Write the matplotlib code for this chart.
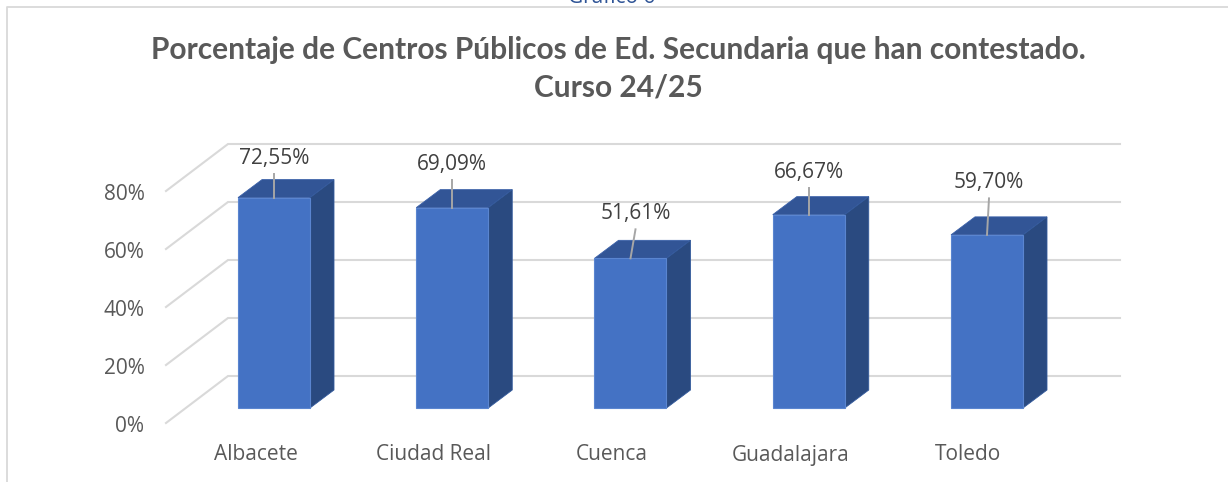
import matplotlib
matplotlib.use("Agg")
import matplotlib.pyplot as plt
from matplotlib.patches import Polygon

plt.rcParams['font.family'] = ['Open Sans', 'DejaVu Sans']

provincias = ["Albacete", "Ciudad Real", "Cuenca", "Guadalajara", "Toledo"]
porcentajes = [72.55, 69.09, 51.61, 66.67, 59.70]
etiquetas = ["72,55%", "69,09%", "51,61%", "66,67%", "59,70%"]
ticks = [0, 20, 40, 60, 80]
tick_labels = ["0%", "20%", "40%", "60%", "80%"]

W, H = 1228, 482
x0, x_step = 274, 178.25   # pixel of first bar centre, spacing between bars
y0, y_scale = 408, 2.9     # pixel of value 0 on the bar front, pixels per %


# pixel offsets turned into data units
def dx(px):
    return px / x_step


def dy(px):
    return px / y_scale


fig = plt.figure(figsize=(W / 100, H / 100), dpi=100)
ax = fig.add_axes([0, 0, 1, 1])
ax.set_xlim(-x0 / x_step, (W - x0) / x_step)
ax.set_ylim((y0 - H) / y_scale, y0 / y_scale)
ax.axis("off")

# chart frame, only left and top are visible
ax.plot([dx(6.5 - x0), dx(6.5 - x0), dx(W - x0)],
        [dy(y0 - H), dy(y0 - 7), dy(y0 - 7)],
        color="#d9d9d9", lw=1.3, zorder=1)

# gridlines: side wall then back wall
left = dx(166 - x0)
mid = dx(228 - x0)
right = dx(1120 - x0)
base = dy(y0 - 423)
for t, lab in zip(ticks, tick_labels):
    y = t + base
    ax.plot([left, mid, right], [y, y + dy(47), y + dy(47)],
            color="#d9d9d9", lw=1.5, zorder=2, solid_joinstyle="miter")
    ax.text(dx(144.5 - x0), y - dy(8.5), lab, ha="right", va="baseline",
            fontsize=15, color="#595959")

# bars
bw = dx(72)
ox, oy = dx(24), dy(18)
for i, v in enumerate(porcentajes):
    l, r = i - bw / 2, i + bw / 2
    ax.add_patch(Polygon([(l, v), (r, v), (r + ox, v + oy), (l + ox, v + oy)],
                         fc="#325596", ec="#3a60a8", lw=0.6, zorder=3))
    ax.add_patch(Polygon([(r, 0), (r + ox, oy), (r + ox, v + oy), (r, v)],
                         fc="#2a4a80", ec="#335a9c", lw=0.6, zorder=3))
    ax.add_patch(Polygon([(l, 0), (r, 0), (r, v), (l, v)],
                         fc="#4472c4", ec="#5a85d0", lw=0.8, zorder=4))

# data labels with leader lines
label_dx = [0, 0, 5, 0, 2]
label_gap = [42, 46, 47, 44.5, 54.5]
for i, v in enumerate(porcentajes):
    lx = i + dx(label_dx[i])
    ly = v + dy(label_gap[i] - 8)
    ax.plot([i, lx], [v, v + dy(label_gap[i] - 18)], color="#a6a6a6", lw=1.4, zorder=5)
    ax.text(lx, ly, etiquetas[i], ha="center", va="baseline",
            fontsize=15, color="#404040", zorder=6)

for i, c in enumerate(provincias):
    ax.text(i + dx(-18.5), dy(y0 - 460.5), c, ha="center", va="baseline",
            fontsize=15, color="#595959")

ax.text(dx(618.5 - x0), dy(y0 - 58.5), "Porcentaje de Centros Públicos de Ed. Secundaria que han contestado.",
        ha="center", va="baseline", fontsize=21.5, fontweight="bold", color="#595959", family="Lato")
ax.text(dx(618.5 - x0), dy(y0 - 96), "Curso 24/25",
        ha="center", va="baseline", fontsize=21.5, fontweight="bold", color="#595959", family="Lato")

# caption cut off by the top edge of the picture
ax.text(dx(612 - x0), dy(y0 - 3), "Gráfico 6", ha="center", va="baseline",
        fontsize=15, color="#2f5496")

fig.savefig("out.png", dpi=100)
